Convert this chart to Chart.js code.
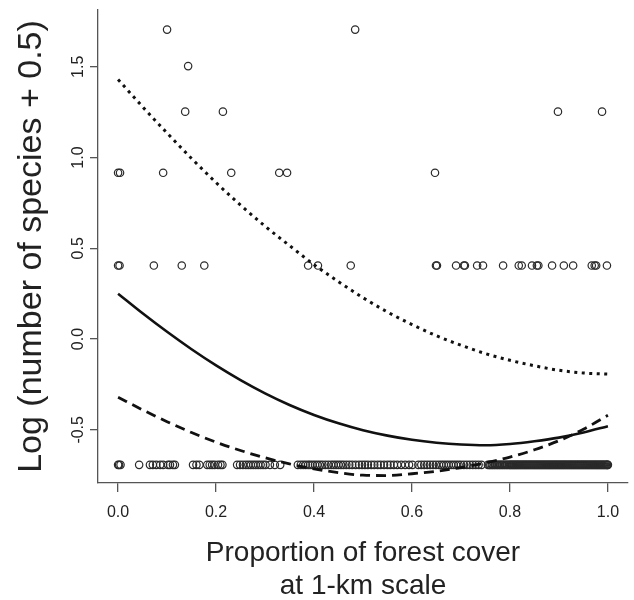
<!DOCTYPE html>
<html>
<head>
<meta charset="utf-8">
<script src="https://cdn.jsdelivr.net/npm/chart.js@4.4.1/dist/chart.umd.min.js"></script>
<style>
  body { margin: 0; background: #fff; }
</style>
</head>
<body>
<canvas id="myChart" width="634" height="600"></canvas>
<script>
// y levels are log(n + 0.5) for n = 0..5 species
const levels = [-0.693, 0.405, 0.916, 1.253, 1.504, 1.705];

// forest cover of each site, one list per level
const row0 = [0.000, 0.002, 0.005, 0.043, 0.065, 0.071, 0.078, 0.086, 0.092, 0.102, 0.106, 0.112, 0.116,
  0.153, 0.160, 0.166, 0.182, 0.187, 0.192, 0.197, 0.204, 0.209, 0.213,
  0.243, 0.249, 0.255, 0.261, 0.266, 0.271, 0.276, 0.281, 0.286, 0.291, 0.296, 0.301, 0.310, 0.320, 0.331,
  0.367, 0.373, 0.378, 0.383, 0.388, 0.392, 0.397, 0.402, 0.407, 0.412, 0.417, 0.423, 0.429, 0.435, 0.440,
  0.445, 0.450, 0.455, 0.460, 0.466, 0.472, 0.478, 0.485, 0.492, 0.498, 0.504, 0.510, 0.517, 0.523, 0.530,
  0.536, 0.543, 0.550, 0.556, 0.563, 0.570, 0.578, 0.586, 0.594, 0.601,
  0.613, 0.619, 0.625, 0.631, 0.637, 0.643, 0.649, 0.655, 0.660, 0.665, 0.670, 0.675, 0.680, 0.685, 0.690,
  0.695, 0.700, 0.706, 0.712, 0.718, 0.724, 0.730, 0.736, 0.742,
  0.755, 0.760, 0.765, 0.770, 0.775, 0.780, 0.785, 0.790, 0.795, 0.800, 0.804, 0.808, 0.812, 0.816, 0.820,
  0.824, 0.828, 0.832, 0.836, 0.840, 0.844, 0.848, 0.852, 0.856, 0.860, 0.864, 0.868, 0.872, 0.876, 0.880,
  0.884, 0.888, 0.892, 0.896, 0.900, 0.904, 0.908, 0.912, 0.916, 0.920, 0.924, 0.928, 0.932, 0.936, 0.940,
  0.944, 0.948, 0.952, 0.956, 0.960, 0.964, 0.968, 0.972, 0.976, 0.980, 0.984, 0.988, 0.992, 0.996, 0.999, 1.000,
  0.758, 0.763, 0.768, 0.773, 0.778, 0.783, 0.788, 0.793, 0.798, 0.802, 0.806, 0.810, 0.814, 0.818, 0.822,
  0.826, 0.830, 0.834, 0.838, 0.842, 0.846, 0.850, 0.854, 0.858, 0.862, 0.866, 0.870, 0.874, 0.878, 0.882,
  0.886, 0.890, 0.894, 0.898, 0.902, 0.906, 0.910, 0.914, 0.918, 0.922, 0.926, 0.930, 0.934, 0.938, 0.942,
  0.946, 0.950, 0.954, 0.958, 0.962, 0.966, 0.970, 0.974, 0.978, 0.982, 0.986, 0.990, 0.994, 0.998];
const row1 = [0.000, 0.003, 0.073, 0.130, 0.176, 0.388, 0.408, 0.475, 0.649, 0.651, 0.690, 0.706, 0.708,
  0.733, 0.745, 0.786, 0.818, 0.824, 0.845, 0.855, 0.858, 0.886, 0.910, 0.929, 0.967, 0.973, 0.976, 0.998];
const row2 = [0.000, 0.004, 0.092, 0.231, 0.329, 0.345, 0.647];
const row3 = [0.137, 0.214, 0.898, 0.988];
const row4 = [0.143];
const row5 = [0.100, 0.484];

// fitted curve and its bounds, read at steps of 0.05
const fitX = [0, 0.05, 0.1, 0.15, 0.2, 0.25, 0.3, 0.35, 0.4, 0.45, 0.5,
  0.55, 0.6, 0.65, 0.7, 0.75, 0.8, 0.85, 0.9, 0.95, 1.0];
const fitMid = [0.25, 0.142, 0.040, -0.056, -0.145, -0.226, -0.299, -0.363, -0.418, -0.464, -0.502,
  -0.532, -0.555, -0.571, -0.581, -0.585, -0.578, -0.563, -0.543, -0.515, -0.48];
const fitUpper = [1.43, 1.28, 1.135, 0.995, 0.862, 0.738, 0.622, 0.515, 0.41, 0.316, 0.228,
  0.149, 0.08, 0.018, -0.034, -0.08, -0.117, -0.147, -0.172, -0.187, -0.193];
const fitLower = [-0.32, -0.39, -0.455, -0.515, -0.568, -0.614, -0.654, -0.688, -0.715, -0.736, -0.75,
  -0.752, -0.742, -0.728, -0.708, -0.682, -0.65, -0.61, -0.56, -0.497, -0.42];

const xTicks = [0, 0.2, 0.4, 0.6, 0.8, 1.0];
const yTicks = [-0.5, 0, 0.5, 1.0, 1.5];

const rows = [row0, row1, row2, row3, row4, row5];
const points = [];
rows.forEach((r, i) => r.forEach(x => points.push({ x: x, y: levels[i] })));
const curve = ys => fitX.map((x, i) => ({ x: x, y: ys[i] }));

const axisColor = '#555';
const textColor = '#222';
const fontFamily = '"Liberation Sans", Arial, sans-serif';

// y tick labels in R style, rotated along the axis
const yLabels = {
  id: 'yLabels',
  afterDraw(chart) {
    const ctx = chart.ctx;
    const y = chart.scales.y;
    ctx.save();
    ctx.fillStyle = textColor;
    ctx.font = '16px ' + fontFamily;
    ctx.textAlign = 'center';
    ctx.textBaseline = 'middle';
    y.ticks.forEach(t => {
      ctx.save();
      ctx.translate(79, y.getPixelForValue(t.value));
      ctx.rotate(-Math.PI / 2);
      ctx.fillText(t.value.toFixed(1), 0, 0);
      ctx.restore();
    });
    ctx.restore();
  }
};

const ctx = document.getElementById('myChart');
new Chart(ctx, {
  type: 'scatter',
  data: {
    datasets: [
      {
        data: points,
        pointStyle: 'circle',
        pointRadius: 3.7,
        borderWidth: 1.2,
        borderColor: '#2a2a2a',
        backgroundColor: 'rgba(0,0,0,0)',
        order: 4
      },
      {
        type: 'line',
        data: curve(fitMid),
        borderColor: '#111',
        borderWidth: 2.6,
        pointRadius: 0,
        cubicInterpolationMode: 'monotone',
        fill: false,
        order: 1
      },
      {
        type: 'line',
        data: curve(fitUpper),
        borderColor: '#111',
        borderWidth: 3,
        borderDash: [3, 4.5],
        pointRadius: 0,
        cubicInterpolationMode: 'monotone',
        fill: false,
        order: 2
      },
      {
        type: 'line',
        data: curve(fitLower),
        borderColor: '#111',
        borderWidth: 2.8,
        borderDash: [10, 6],
        pointRadius: 0,
        cubicInterpolationMode: 'monotone',
        fill: false,
        order: 3
      }
    ]
  },
  options: {
    responsive: false,
    animation: false,
    devicePixelRatio: 1,
    layout: { padding: { top: 10, right: 6, left: 0, bottom: 0 } },
    plugins: {
      legend: { display: false },
      tooltip: { enabled: false }
    },
    scales: {
      x: {
        type: 'linear',
        min: -0.041,
        max: 1.041,
        afterBuildTicks: s => { s.ticks = xTicks.map(v => ({ value: v })); },
        afterFit: s => { s.height = 117; },
        grid: { drawOnChartArea: false, tickLength: 9, color: axisColor, lineWidth: 1.3 },
        border: { display: true, color: axisColor, width: 1.3 },
        ticks: {
          padding: 11,
          color: textColor,
          font: { size: 16, family: fontFamily },
          maxRotation: 0,
          callback: v => Number(v).toFixed(1)
        },
        title: {
          display: true,
          text: ['Proportion of forest cover', 'at 1-km scale'],
          color: textColor,
          font: { size: 28, family: fontFamily, lineHeight: 1.15 },
          padding: { top: 0, bottom: -2 }
        }
      },
      y: {
        type: 'linear',
        min: -0.793,
        max: 1.813,
        afterBuildTicks: s => { s.ticks = yTicks.map(v => ({ value: v })); },
        afterFit: s => { s.width = 98; },
        grid: { drawOnChartArea: false, tickLength: 8, color: axisColor, lineWidth: 1.3 },
        border: { display: true, color: axisColor, width: 1.3 },
        ticks: { display: false },
        title: {
          display: true,
          text: 'Log (number of species + 0.5)',
          color: textColor,
          font: { size: 34, family: fontFamily, lineHeight: 1.2 },
          padding: { top: 11, bottom: 0 }
        }
      }
    }
  },
  plugins: [yLabels]
});
</script>
</body>
</html>
